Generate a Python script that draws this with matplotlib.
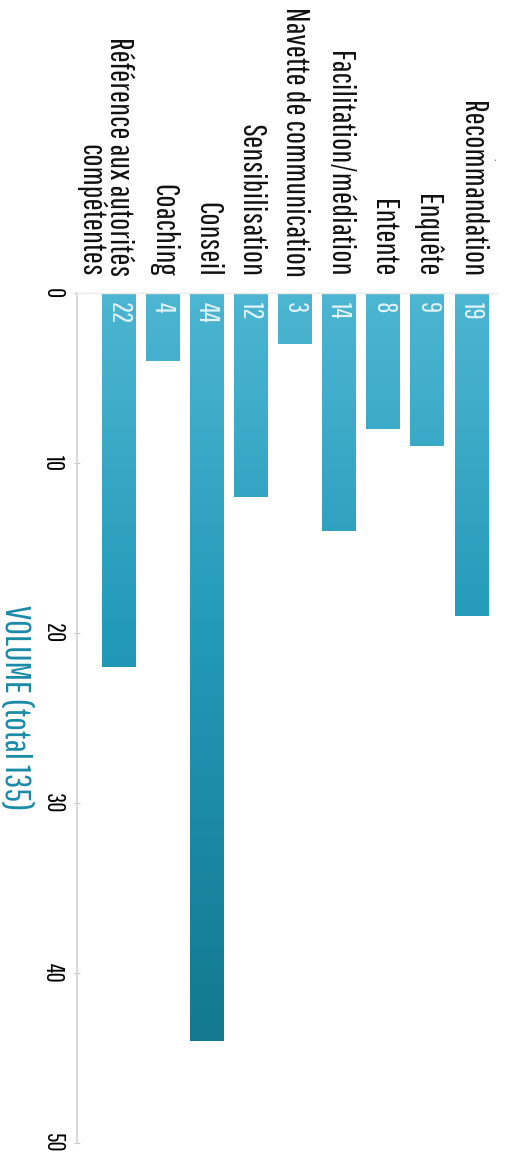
import numpy as np
import matplotlib
matplotlib.use("Agg")
import matplotlib.pyplot as plt
from matplotlib.colors import LinearSegmentedColormap

# Données (de gauche à droite dans l'image pivotée)
categories = ["Référence aux autorités\ncompétentes", "Coaching", "Conseil", "Sensibilisation",
              "Navette de communication", "Facilitation/médiation", "Entente", "Enquête",
              "Recommandation"]
volumes = [22, 4, 44, 12, 3, 14, 8, 9, 19]
graduations = [0, 10, 20, 30, 40, 50]
titre_axe = "VOLUME (total 135)"

police = "Pathway Gothic One"
plt.rcParams['font.family'] = [police, 'DejaVu Sans']

fig = plt.figure(figsize=(5.11, 11.6), dpi=100)
ax = fig.add_axes([77 / 511, 17 / 1160, 421 / 511, 850 / 1160])

# dégradé vertical selon la valeur
degrade = LinearSegmentedColormap.from_list(
    "bleu", [(0.0, "#4db6d2"), (0.4, "#2399b8"), (0.88, "#137890"), (1.0, "#0f6f86")])

x = np.arange(len(categories))
barres = ax.bar(x, volumes, width=0.77, color="none", edgecolor="none")
grad = np.linspace(0, 50, 256).reshape(-1, 1)
for b in barres:
    x0, h, w = b.get_x(), b.get_height(), b.get_width()
    im = ax.imshow(grad, cmap=degrade, vmin=0, vmax=50, aspect="auto",
                   extent=[x0, x0 + w, 50, 0], origin="upper", zorder=2)
    im.set_clip_path(b)

for xi, v in zip(x, volumes):
    ax.text(xi, 0.5, str(v), rotation=-90, ha="center", va="top", color="white",
            alpha=0.85, fontsize=20, zorder=3)

# étiquettes des catégories au-dessus des barres
for xi, lab in zip(x, categories):
    dx = -0.33 if "\n" in lab else 0
    ax.text(xi + dx, -0.95, lab, rotation=-90, ha="center", va="bottom",
            multialignment="right", linespacing=0.92, fontsize=23.5, color="#111111",
            clip_on=False)

ax.text(8.5, -7.9, "·", rotation=-90, ha="center", va="center", fontsize=10,
        color="#333333", clip_on=False)

ax.set_xlim(-0.95, 8.6)
ax.set_ylim(50, 0)
ax.set_yticks(graduations)
ax.set_yticklabels([str(g) for g in graduations], rotation=-90, va="center", ha="center",
                   fontsize=18, color="black")
ax.tick_params(axis="y", direction="inout", length=5, width=0.8, color="#c8c8c8", pad=15)
ax.set_xticks([])
for s in ["right", "bottom"]:
    ax.spines[s].set_visible(False)
ax.spines["left"].set_color("#d2d2d2")
ax.spines["left"].set_linewidth(1.2)
ax.spines["top"].set_color("#eeeaea")
ax.spines["top"].set_linewidth(1.0)

ax.set_ylabel(titre_axe, rotation=-90, ha="center", va="center", fontsize=26, color="#1a8aa6")
ax.yaxis.set_label_coords(-0.145, 0.512)

fig.savefig("out.png", dpi=100)
